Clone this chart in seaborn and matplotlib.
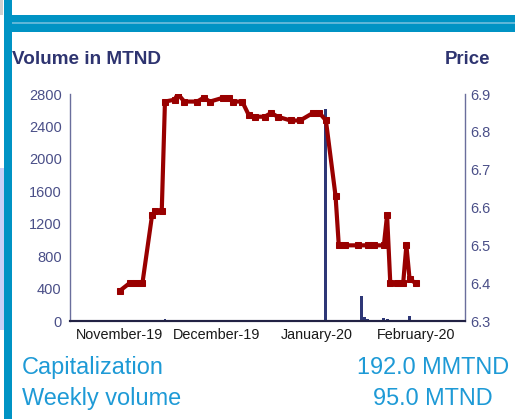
import numpy as np
import pandas as pd
import matplotlib
matplotlib.use("Agg")
import matplotlib.pyplot as plt
import matplotlib.dates as mdates
from matplotlib.patches import Rectangle
import seaborn as sns

# ---- data ----
price_dates = ["2019-11-01", "2019-11-04", "2019-11-06", "2019-11-08", "2019-11-11",
               "2019-11-12", "2019-11-14", "2019-11-15", "2019-11-18", "2019-11-19",
               "2019-11-21", "2019-11-25", "2019-11-27", "2019-11-29", "2019-12-03",
               "2019-12-05", "2019-12-06", "2019-12-09", "2019-12-11", "2019-12-13",
               "2019-12-16", "2019-12-18", "2019-12-20", "2019-12-24", "2019-12-27",
               "2019-12-31", "2020-01-02", "2020-01-04", "2020-01-07", "2020-01-08",
               "2020-01-10", "2020-01-14", "2020-01-17", "2020-01-19", "2020-01-22",
               "2020-01-23", "2020-01-24", "2020-01-26", "2020-01-28", "2020-01-29",
               "2020-01-30", "2020-02-01"]
price_values = [6.38, 6.40, 6.40, 6.40, 6.58,
                6.59, 6.59, 6.88, 6.885, 6.90,
                6.88, 6.88, 6.89, 6.88, 6.89,
                6.89, 6.88, 6.88, 6.845, 6.84,
                6.84, 6.85, 6.84, 6.83, 6.83,
                6.85, 6.85, 6.83, 6.63, 6.50,
                6.50, 6.50, 6.50, 6.50, 6.50,
                6.58, 6.40, 6.40, 6.40, 6.50,
                6.41, 6.40]

volume_dates = ["2019-11-06", "2019-11-15", "2019-11-20", "2019-11-29", "2019-12-10",
                "2019-12-14", "2020-01-04", "2020-01-15", "2020-01-16", "2020-01-17",
                "2020-01-18", "2020-01-22", "2020-01-23", "2020-01-29", "2020-01-30"]
volume_values = [15, 20, 5, 5, 5,
                 5, 2610, 310, 50, 25,
                 15, 35, 25, 10, 60]

month_ticks = ["2019-11-01", "2019-12-01", "2020-01-01", "2020-02-01"]
left_ticks = [0, 400, 800, 1200, 1600, 2000, 2400, 2800]
right_ticks = [6.3, 6.4, 6.5, 6.6, 6.7, 6.8, 6.9]

# ---- style ----
sns.set_theme(style="white")
plt.rcParams['font.family'] = ['Liberation Sans', 'DejaVu Sans']

W, H = 515, 419
fig = plt.figure(figsize=(W / 100, H / 100), dpi=100)

def fx(px):
    return px / W

def fy(py):
    return 1 - py / H

ax = fig.add_axes([fx(70), fy(321), fx(465) - fx(70), fy(94) - fy(321)])

navy = "#2E3777"
tickc = "#4A4F88"
red = "#990000"

vol = pd.DataFrame({"date": mdates.date2num(pd.to_datetime(volume_dates)),
                    "vol": volume_values})
sns.barplot(data=vol, x="date", y="vol", native_scale=True, color=navy,
            saturation=1, width=0.9, ax=ax, edgecolor="none")

ax2 = ax.twinx()
pr = pd.DataFrame({"date": mdates.date2num(pd.to_datetime(price_dates)),
                   "price": price_values})
sns.lineplot(data=pr, x="date", y="price", color=red, lw=3, marker="s",
             markersize=5, markeredgecolor=red, ax=ax2)

x0 = mdates.date2num(pd.Timestamp("2019-10-16 12:00"))
x1 = mdates.date2num(pd.Timestamp("2020-02-16 05:00"))
ax.set_xlim(x0, x1)
ax.set_ylim(0, 2800)
ax2.set_ylim(6.3, 6.9)
ax.set_xticks(mdates.date2num(pd.to_datetime(month_ticks)))
ax.xaxis.set_major_formatter(mdates.DateFormatter("%B-%y"))
ax.set_yticks(left_ticks)
ax.set_yticklabels([str(v) for v in left_ticks])
ax2.set_yticks(right_ticks)
ax2.set_yticklabels([f"{v:.1f}" for v in right_ticks])

for a in (ax, ax2):
    a.set_xlabel("")
    a.set_ylabel("")
    a.grid(False)
    a.set_facecolor("none")
    a.spines["top"].set_visible(False)

ax.tick_params(axis="x", length=0, pad=5, labelsize=10.4, labelcolor="#1a1a1a")
ax.tick_params(axis="y", length=0, pad=6, labelsize=10.5, labelcolor=tickc)
ax2.tick_params(axis="y", length=0, pad=4, labelsize=10.5, labelcolor=tickc)
for a in (ax, ax2):
    a.spines["left"].set_color("#6A6E9C")
    a.spines["left"].set_linewidth(1)
    a.spines["right"].set_color("#6A6E9C")
    a.spines["right"].set_linewidth(1)
    a.spines["bottom"].set_color("#222244")
    a.spines["bottom"].set_linewidth(1.5)
ax.spines["right"].set_visible(False)
ax2.spines["left"].set_visible(False)

# axis titles
fig.text(fx(12), fy(60), "Volume in MTND", fontsize=13.6, fontweight="bold",
         color="#2E3470", ha="left", va="center")
fig.text(fx(490), fy(60), "Price", fontsize=13.4, fontweight="bold",
         color="#2E3470", ha="right", va="center")

# info texts
blue_txt = "#1E9AD6"
fig.text(fx(22), fy(367), "Capitalization", fontsize=16.9, color=blue_txt,
         ha="left", va="center")
fig.text(fx(509), fy(367), "192.0 MMTND", fontsize=16.9, color=blue_txt,
         ha="right", va="center")
fig.text(fx(22), fy(398), "Weekly volume", fontsize=16.9, color=blue_txt,
         ha="left", va="center")
fig.text(fx(493), fy(398), "95.0 MTND", fontsize=16.9, color=blue_txt,
         ha="right", va="center")

# frame decorations
deco_blue = "#0093C4"
def rect(x, y, w, h, c):
    fig.patches.append(Rectangle((fx(x), fy(y + h)), w / W, h / H,
                                 transform=fig.transFigure, facecolor=c,
                                 edgecolor="none", zorder=-1))
rect(0, 0, 3, 15, "#D0D0D0")
rect(0, 168, 5, 162, "#C9D1F7")
rect(4, 0, 8, H, deco_blue)
rect(4, 15, W - 4, 17, deco_blue)
rect(12, 22, W - 12, 2, "#5DB6D8")

fig.savefig("out.png", dpi=100)
